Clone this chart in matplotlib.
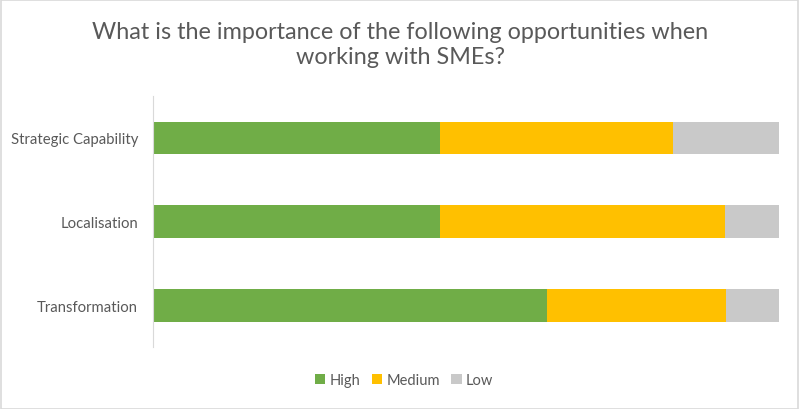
import matplotlib.pyplot as plt
import numpy as np

categories = ["Strategic Capability", "Localisation", "Transformation"]
high = [45.8, 45.8, 63.0]
medium = [37.3, 45.6, 28.5]
low = [16.9, 8.6, 8.5]
series_names = ["High", "Medium", "Low"]
colors = ["#70AD47", "#FFC000", "#C9C9C9"]

plt.rcParams['font.family'] = ['Lato', 'DejaVu Sans']
fig = plt.figure(figsize=(8, 4.1), dpi=100)
ax = fig.add_axes([0.191, 0.151, 0.783, 0.612])

y = np.arange(len(categories))
left = np.zeros(len(categories))
for vals, name, c in zip([high, medium, low], series_names, colors):
    ax.barh(y, vals, left=left, height=0.39, color=c, label=name)
    left += np.array(vals)

ax.set_xlim(0, 100)
ax.set_ylim(2.5, -0.5)
ax.set_yticks(y)
ax.set_yticklabels(categories, fontsize=10.7, color="#595959")
ax.tick_params(axis='y', length=0, pad=10.5)
ax.set_xticks([])
for s in ["top", "right", "bottom"]:
    ax.spines[s].set_visible(False)
ax.spines["left"].set_color("#D9D9D9")

fig.text(0.5, 0.89, "What is the importance of the following opportunities when\nworking with SMEs?",
         ha="center", va="center", fontsize=16.8, color="#595959", linespacing=1.25)

leg = fig.legend(loc="center", bbox_to_anchor=(0.505, 0.07), ncol=3, frameon=False,
                 fontsize=10.5, handlelength=0.7, handleheight=0.7, columnspacing=0.8,
                 handletextpad=0.3)
for t in leg.get_texts():
    t.set_color("#595959")

border = plt.Rectangle((0.001, 0.001), 0.997, 0.996, transform=fig.transFigure,
                       fill=False, edgecolor="#D9D9D9", linewidth=1.2)
fig.patches.append(border)

fig.savefig("out.png", dpi=100)
